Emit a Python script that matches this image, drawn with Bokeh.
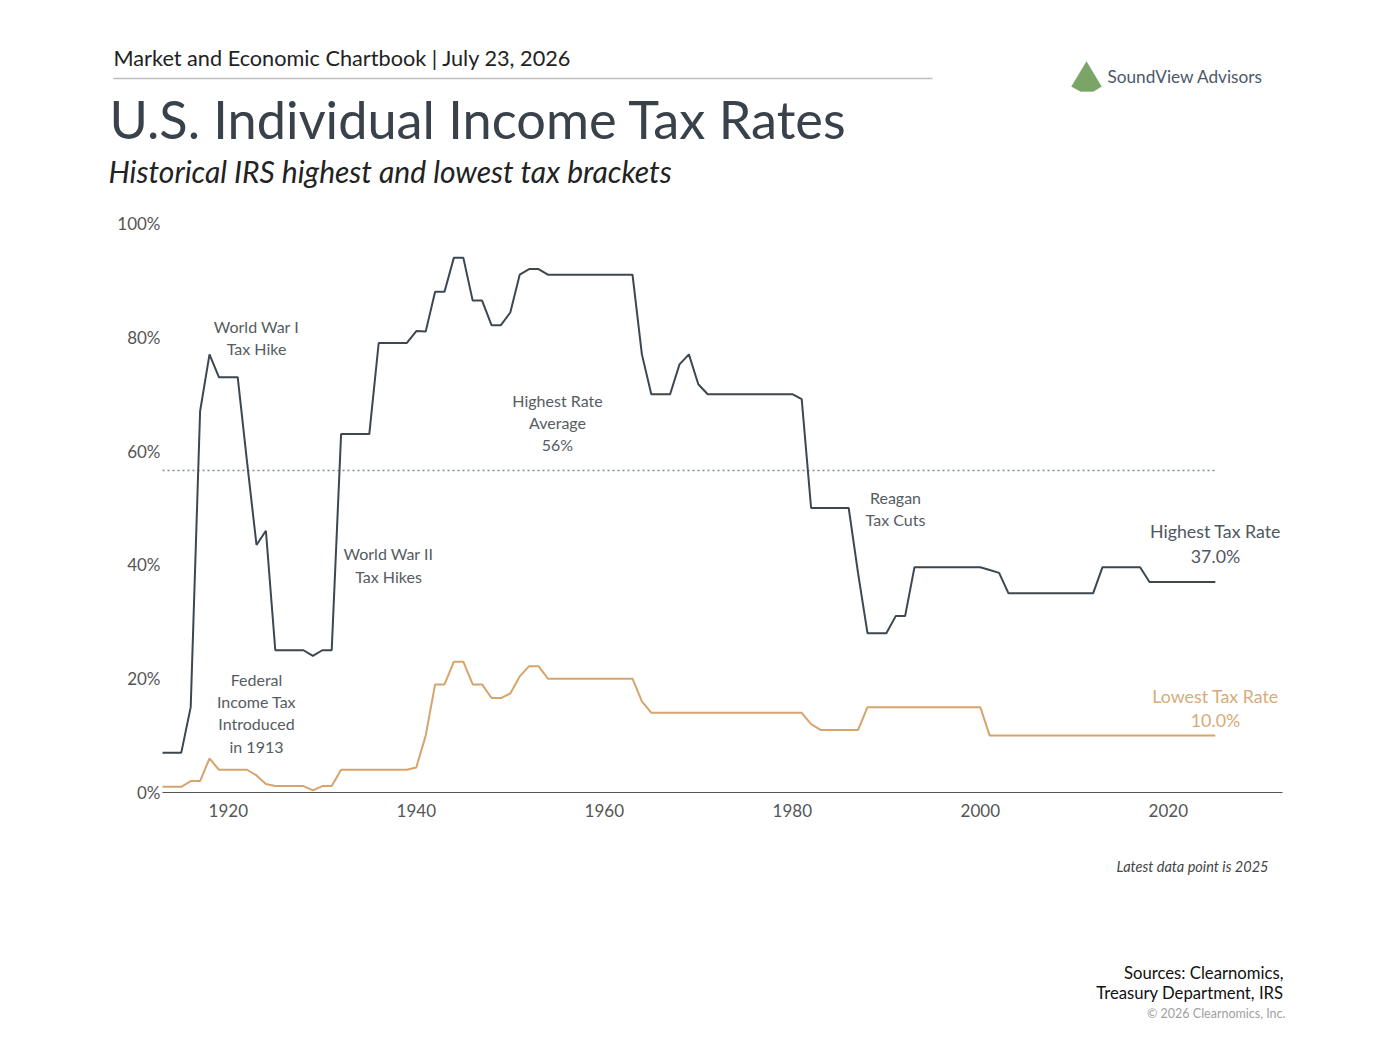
from bokeh.plotting import figure
from bokeh.models import Range1d, FixedTicker, PrintfTickFormatter, Label, PolyAnnotation, Arrow, LinearAxis
from bokeh.embed import file_html
from bokeh.resources import INLINE

# ---------------- data ----------------
years = list(range(1913, 2026))

highest_rate = [
    7, 7, 7, 15, 67, 77, 73, 73, 73, 58,            # 1913-1922
    43.5, 46, 25, 25, 25, 25, 24, 25, 25, 63,       # 1923-1932
    63, 63, 63, 79, 79, 79, 79, 81.1, 81, 88,       # 1933-1942
    88, 94, 94, 86.45, 86.45, 82.13, 82.13, 84.36, 91, 92,  # 1943-1952
    92, 91, 91, 91, 91, 91, 91, 91, 91, 91,         # 1953-1962
    91, 77, 70, 70, 70, 75.25, 77, 71.75, 70, 70,   # 1963-1972
    70, 70, 70, 70, 70, 70, 70, 70, 69.13, 50,      # 1973-1982
    50, 50, 50, 50, 38.5, 28, 28, 28, 31, 31,       # 1983-1992
    39.6, 39.6, 39.6, 39.6, 39.6, 39.6, 39.6, 39.6, 39.1, 38.6,  # 1993-2002
    35, 35, 35, 35, 35, 35, 35, 35, 35, 35,         # 2003-2012
    39.6, 39.6, 39.6, 39.6, 39.6, 37, 37, 37, 37, 37,  # 2013-2022
    37, 37, 37,                                     # 2023-2025
]

lowest_rate = [
    1, 1, 1, 2, 2, 6, 4, 4, 4, 4,                   # 1913-1922
    3, 1.5, 1.125, 1.125, 1.125, 1.125, 0.375, 1.125, 1.125, 4,  # 1923-1932
    4, 4, 4, 4, 4, 4, 4, 4.4, 10, 19,               # 1933-1942
    19, 23, 23, 19, 19, 16.6, 16.6, 17.4, 20.4, 22.2,  # 1943-1952
    22.2, 20, 20, 20, 20, 20, 20, 20, 20, 20,       # 1953-1962
    20, 16, 14, 14, 14, 14, 14, 14, 14, 14,         # 1963-1972
    14, 14, 14, 14, 14, 14, 14, 14, 14, 12,         # 1973-1982
    11, 11, 11, 11, 11, 15, 15, 15, 15, 15,         # 1983-1992
    15, 15, 15, 15, 15, 15, 15, 15, 10, 10,         # 1993-2002
    10, 10, 10, 10, 10, 10, 10, 10, 10, 10,         # 2003-2012
    10, 10, 10, 10, 10, 10, 10, 10, 10, 10,         # 2013-2022
    10, 10, 10,                                     # 2023-2025
]

highest_average = 56.6
x_ticks = [1920, 1940, 1960, 1980, 2000, 2020]
y_ticks = [0, 20, 40, 60, 80, 100]
x_axis_end = 2032.15

# ---------------- styling ----------------
HIGH_COLOR = "#3d4750"
LOW_COLOR = "#d6a46c"
TEXT_GRAY = "#555c62"
FONT = "Lato"

W, H = 1377, 1029


# page pixel -> data coordinate helpers (used for layout of the whole canvas)
def X(px):
    return 1913 + (px - 162) / 9.4


def Y(py):
    return (792 - py) / 5.69


p = figure(width=W, height=H, output_backend="svg", toolbar_location=None,
           x_range=Range1d(X(0), X(W)), y_range=Range1d(Y(H), Y(0)),
           x_axis_location=None, y_axis_location=None)
p.min_border = 0
p.outline_line_color = None
p.xgrid.grid_line_color = None
p.ygrid.grid_line_color = None
p.background_fill_color = "white"
p.border_fill_color = "white"

xa = LinearAxis(fixed_location=0, bounds=(years[0], x_axis_end))
xa.ticker = FixedTicker(ticks=x_ticks)
xa.axis_line_color = "#555555"
xa.axis_line_width = 1.2
xa.major_tick_line_color = None
xa.minor_tick_line_color = None
xa.major_tick_out = 0
xa.major_tick_in = 0
xa.major_label_standoff = 11
xa.major_label_text_font = FONT
xa.major_label_text_font_size = "17px"
xa.major_label_text_color = "#555555"
p.add_layout(xa, "below")

ya = LinearAxis(fixed_location=years[0], bounds=(0, 100))
ya.ticker = FixedTicker(ticks=y_ticks)
ya.formatter = PrintfTickFormatter(format="%d%%")
ya.axis_line_color = None
ya.major_tick_line_color = None
ya.minor_tick_line_color = None
ya.major_tick_out = 0
ya.major_tick_in = 0
ya.major_label_standoff = 2
ya.major_label_text_font = FONT
ya.major_label_text_font_size = "17px"
ya.major_label_text_color = "#555555"
p.add_layout(ya, "left")

# average line
p.line([years[0], years[-1]], [highest_average, highest_average],
       line_color="#7f918d", line_width=1.4, line_dash="2 3")

p.line(years, lowest_rate, line_color=LOW_COLOR, line_width=2)
p.line(years, highest_rate, line_color=HIGH_COLOR, line_width=2)


def lab(text, px, py, size="16px", color=TEXT_GRAY, align="center", style="normal", font=FONT):
    p.add_layout(Label(x=X(px), y=Y(py), text=text, text_font=font, text_font_size=size,
                       text_color=color, text_align=align, text_baseline="middle",
                       text_font_style=style))


# chart annotations
lab("World War I", 256, 326)
lab("Tax Hike", 256, 348)
lab("World War II", 388, 553)
lab("Tax Hikes", 388, 576)
lab("Highest Rate", 557, 400)
lab("Average", 557, 422)
lab("56%", 557, 444)
lab("Reagan", 895, 497)
lab("Tax Cuts", 895, 519)
lab("Federal", 256, 679)
lab("Income Tax", 256, 701)
lab("Introduced", 256, 723)
lab("in 1913", 256, 746)
lab("Highest Tax Rate", 1215, 530, size="17.8px", color="#4f575e")
lab("37.0%", 1215, 555, size="17.8px", color="#4f575e")
lab("Lowest Tax Rate", 1215, 695, size="17.8px", color="#d8aa78")
lab("10.0%", 1215, 719, size="17.8px", color="#d8aa78")

# header / footer
lab("Market and Economic Chartbook | July 23, 2026", 113, 57, size="21.7px", color="#222222", align="left")
p.add_layout(Arrow(end=None, x_start=X(113), y_start=Y(78), x_end=X(932), y_end=Y(78),
                   line_color="#bdbdbd", line_width=1.5))
lab("U.S. Individual Income Tax Rates", 109, 118, size="52.3px", color="#39424b", align="left")
lab("Historical IRS highest and lowest tax brackets", 108, 170, size="30px", color="#222222",
    align="left", style="italic")
lab("SoundView Advisors", 1107, 76, size="17.2px", color="#4b5868", align="left")
p.add_layout(PolyAnnotation(xs=[X(1071), X(1086), X(1101), X(1093), X(1080)],
                            ys=[Y(86), Y(61), Y(86), Y(91), Y(91)],
                            fill_color="#7aa566", fill_alpha=1.0, line_color="#7aa566"))
lab("Latest data point is 2025", 1268, 866, size="14.5px", color="#444444", align="right", style="italic")
lab("Sources: Clearnomics,", 1283, 972, size="16.7px", color="#111111", align="right")
lab("Treasury Department, IRS", 1283, 992, size="16.7px", color="#111111", align="right")
lab("\u00a9 2026 Clearnomics, Inc.", 1285, 1013, size="12.5px", color="#a0a0a0", align="right")

open("out.html", "w").write(file_html(p, INLINE))
